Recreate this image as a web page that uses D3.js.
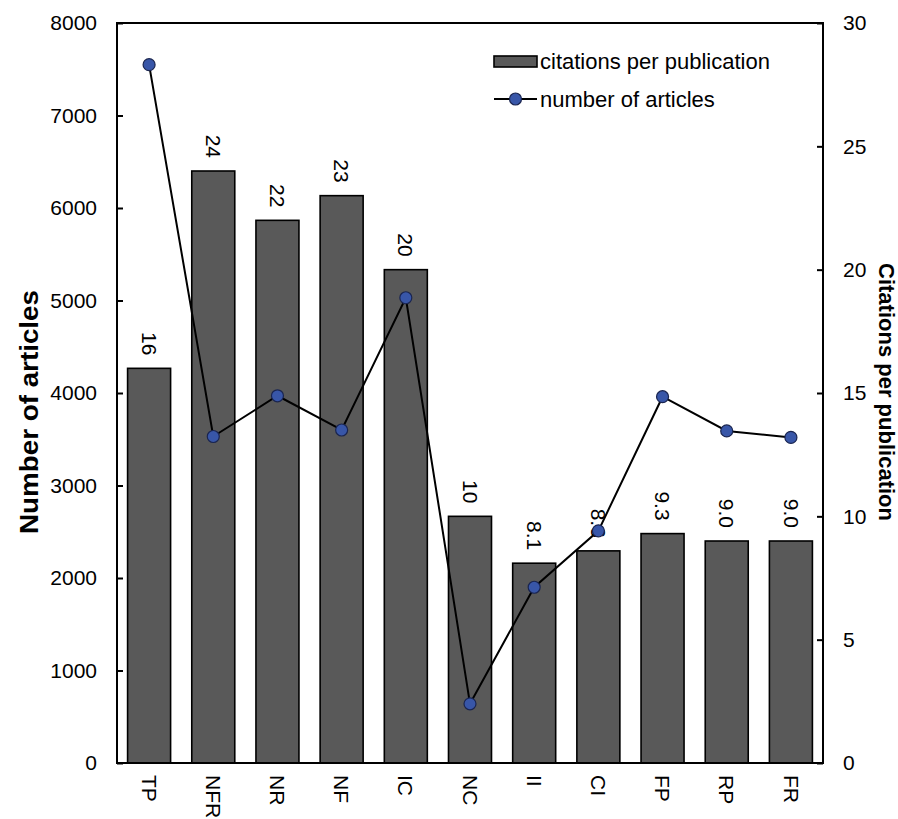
<!DOCTYPE html>
<html>
<head>
<meta charset="utf-8">
<script src="https://cdn.jsdelivr.net/npm/d3@7"></script>
<style>
  html, body { margin: 0; padding: 0; background: #fff; }
  svg text { font-family: Arial, "Liberation Sans", sans-serif; }
</style>
</head>
<body>
<svg id="chart" width="898" height="819"></svg>
<script>
const categories = ["TP", "NFR", "NR", "NF", "IC", "NC", "II", "CI", "FP", "RP", "FR"];
const citationsPerPublication = [16, 24, 22, 23, 20, 10, 8.1, 8.6, 9.3, 9.0, 9.0];
const citationLabels = ["16", "24", "22", "23", "20", "10", "8.1", "8.6", "9.3", "9.0", "9.0"];
const numberOfArticles = [7550, 3530, 3970, 3600, 5030, 640, 1900, 2510, 3960, 3590, 3520];
const leftTicks = [0, 1000, 2000, 3000, 4000, 5000, 6000, 7000, 8000];
const rightTicks = [0, 5, 10, 15, 20, 25, 30];

const svg = d3.select("#chart");
const m = { left: 117, right: 823, top: 23, bottom: 763 };

const x = d3.scaleBand().domain(categories).range([m.left, m.right]).paddingInner(0.33).paddingOuter(0.165);
const yL = d3.scaleLinear().domain([0, 8000]).range([m.bottom, m.top]);
const yR = d3.scaleLinear().domain([0, 30]).range([m.bottom, m.top]);

// bars
svg.append("g").selectAll("rect").data(categories).join("rect")
  .attr("x", d => x(d))
  .attr("width", x.bandwidth())
  .attr("y", (d, i) => yR(citationsPerPublication[i]))
  .attr("height", (d, i) => yR(0) - yR(citationsPerPublication[i]))
  .attr("fill", "#595959")
  .attr("stroke", "#000")
  .attr("stroke-width", 1.6);

// bar labels
svg.append("g").selectAll("text").data(categories).join("text")
  .attr("transform", (d, i) => `translate(${x(d) + x.bandwidth() / 2},${yR(citationsPerPublication[i]) - 13}) rotate(90)`)
  .attr("text-anchor", "end")
  .attr("dy", "0.35em")
  .attr("font-size", 21)
  .attr("fill", "#000")
  .text((d, i) => citationLabels[i]);

// frame
svg.append("rect")
  .attr("x", m.left).attr("y", m.top)
  .attr("width", m.right - m.left).attr("height", m.bottom - m.top)
  .attr("fill", "none").attr("stroke", "#000").attr("stroke-width", 2);

// left axis
const axL = d3.axisLeft(yL).tickValues(leftTicks).tickSize(-6).tickPadding(20).tickFormat(d3.format("d"));
const gL = svg.append("g").attr("transform", `translate(${m.left},0)`).call(axL);
gL.select(".domain").remove();
gL.selectAll(".tick line").attr("stroke", "#000").attr("stroke-width", 2);
gL.selectAll(".tick text").attr("font-size", 21).attr("fill", "#000").attr("font-family", "Arial, 'Liberation Sans', sans-serif");

// right axis
const axR = d3.axisRight(yR).tickValues(rightTicks).tickSize(-6).tickPadding(20);
const gR = svg.append("g").attr("transform", `translate(${m.right},0)`).call(axR);
gR.select(".domain").remove();
gR.selectAll(".tick line").attr("stroke", "#000").attr("stroke-width", 2);
gR.selectAll(".tick text").attr("font-size", 21).attr("fill", "#000").attr("font-family", "Arial, 'Liberation Sans', sans-serif");

// x labels
svg.append("g").selectAll("text").data(categories).join("text")
  .attr("transform", d => `translate(${x(d) + x.bandwidth() / 2},${m.bottom + 12}) rotate(90)`)
  .attr("text-anchor", "start")
  .attr("dy", "0.35em")
  .attr("font-size", 21)
  .attr("fill", "#000")
  .text(d => d);

// line
const line = d3.line()
  .x((d, i) => x(categories[i]) + x.bandwidth() / 2)
  .y(d => yL(d));
svg.append("path").datum(numberOfArticles)
  .attr("d", line).attr("fill", "none").attr("stroke", "#000").attr("stroke-width", 2);
svg.append("g").selectAll("circle").data(numberOfArticles).join("circle")
  .attr("cx", (d, i) => x(categories[i]) + x.bandwidth() / 2)
  .attr("cy", d => yL(d))
  .attr("r", 6)
  .attr("fill", "#3856a8")
  .attr("stroke", "#1a2550")
  .attr("stroke-width", 1.2);

// axis titles
svg.append("text")
  .attr("transform", `translate(38,412) rotate(-90)`)
  .attr("text-anchor", "middle")
  .attr("font-size", 25).attr("font-weight", "bold")
  .attr("textLength", 244).attr("lengthAdjust", "spacingAndGlyphs")
  .text("Number of articles");
svg.append("text")
  .attr("transform", `translate(879,392) rotate(90)`)
  .attr("text-anchor", "middle")
  .attr("font-size", 22).attr("font-weight", "bold")
  .attr("textLength", 258).attr("lengthAdjust", "spacingAndGlyphs")
  .text("Citations per publication");

// legend
const lg = svg.append("g");
lg.append("rect").attr("x", 494).attr("y", 56).attr("width", 43).attr("height", 11)
  .attr("fill", "#595959").attr("stroke", "#000").attr("stroke-width", 1.6);
lg.append("text").attr("x", 540).attr("y", 61).attr("dy", "0.35em").attr("font-size", 22).text("citations per publication");
lg.append("line").attr("x1", 494).attr("x2", 537).attr("y1", 99).attr("y2", 99).attr("stroke", "#000").attr("stroke-width", 2);
lg.append("circle").attr("cx", 515.5).attr("cy", 99).attr("r", 6).attr("fill", "#3856a8").attr("stroke", "#1a2550").attr("stroke-width", 1.2);
lg.append("text").attr("x", 540).attr("y", 99).attr("dy", "0.35em").attr("font-size", 22).text("number of articles");
</script>
</body>
</html>
